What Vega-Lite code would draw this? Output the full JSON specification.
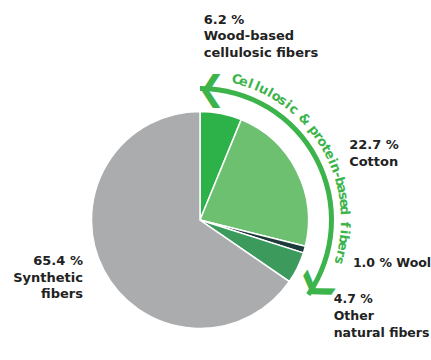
{
  "$schema": "https://vega.github.io/schema/vega-lite/v6.json",
  "autosize": "none",
  "width": 400,
  "height": 280,
  "padding": {"left": 0, "top": 80, "right": 31, "bottom": 0},
  "background": "white",
  "config": {"view": {"stroke": null}, "text": {"font": "DejaVu Sans"}},
  "datasets": {
    "fibers": [
      {"i": 1, "name": "Wood-based cellulosic fibers", "value": 6.2, "label": "6.2 %\nWood-based\ncellulosic fibers"},
      {"i": 2, "name": "Cotton", "value": 22.7, "label": "22.7 %\nCotton"},
      {"i": 3, "name": "Wool", "value": 1.0, "label": "1.0 % Wool"},
      {"i": 4, "name": "Other natural fibers", "value": 4.7, "label": "4.7 %\nOther\nnatural fibers"},
      {"i": 5, "name": "Synthetic fibers", "value": 65.4, "label": "65.4 %\nSynthetic\nfibers"}
    ],
    "arrow": [
      {"group": "Cellulosic & protein-based fibers", "start": 0, "end": 34.6}
    ],
    "chars": [
      {"i": 0, "ch": "C"}, {"i": 1, "ch": "e"}, {"i": 2, "ch": "l"}, {"i": 3, "ch": "l"},
      {"i": 4, "ch": "u"}, {"i": 5, "ch": "l"}, {"i": 6, "ch": "o"}, {"i": 7, "ch": "s"},
      {"i": 8, "ch": "i"}, {"i": 9, "ch": "c"}, {"i": 10, "ch": " "}, {"i": 11, "ch": "&"},
      {"i": 12, "ch": " "}, {"i": 13, "ch": "p"}, {"i": 14, "ch": "r"}, {"i": 15, "ch": "o"},
      {"i": 16, "ch": "t"}, {"i": 17, "ch": "e"}, {"i": 18, "ch": "i"}, {"i": 19, "ch": "n"},
      {"i": 20, "ch": "-"}, {"i": 21, "ch": "b"}, {"i": 22, "ch": "a"}, {"i": 23, "ch": "s"},
      {"i": 24, "ch": "e"}, {"i": 25, "ch": "d"}, {"i": 26, "ch": " "}, {"i": 27, "ch": "f"},
      {"i": 28, "ch": "i"}, {"i": 29, "ch": "b"}, {"i": 30, "ch": "e"}, {"i": 31, "ch": "r"},
      {"i": 32, "ch": "s"}
    ]
  },
  "layer": [
    {
      "layer": [
        {
          "data": {"name": "fibers"},
          "mark": {"type": "arc", "outerRadius": 108.5, "stroke": "white", "strokeWidth": 1.5},
          "encoding": {
            "theta": {"field": "value", "type": "quantitative", "stack": true, "scale": {"domain": [0, 100]}},
            "order": {"field": "i", "type": "quantitative"},
            "color": {
              "field": "name", "type": "nominal", "legend": null,
              "scale": {
                "domain": ["Wood-based cellulosic fibers", "Cotton", "Wool", "Other natural fibers", "Synthetic fibers"],
                "range": ["#2db24a", "#6dc070", "#1d3b3a", "#3c9b5c", "#aaacae"]
              }
            }
          }
        },
        {
          "data": {"name": "arrow"},
          "mark": {"type": "arc", "innerRadius": 129, "outerRadius": 134, "color": "#3cb44b"},
          "encoding": {
            "theta": {"field": "start", "type": "quantitative"},
            "theta2": {"field": "end"}
          }
        },
        {
          "data": {"name": "arrow"},
          "mark": {"type": "text", "text": "❮", "radius": 131.5, "align": "left", "baseline": "middle", "angle": 0, "dx": -3, "dy": 1, "fontSize": 34, "fontWeight": "bold", "color": "#3cb44b"},
          "encoding": {
            "theta": {"field": "start", "type": "quantitative"}
          }
        },
        {
          "data": {"name": "arrow"},
          "mark": {"type": "text", "text": "❮", "radius": 131.5, "align": "left", "baseline": "middle", "angle": 304, "dx": -3, "dy": 1, "fontSize": 34, "fontWeight": "bold", "color": "#3cb44b"},
          "encoding": {
            "theta": {"field": "end", "type": "quantitative"}
          }
        },
        {
          "data": {"name": "fibers"},
          "mark": {"type": "text", "radius": 200, "align": "left", "baseline": "alphabetic", "dx": -35, "dy": 0, "fontSize": 13, "fontWeight": "bold", "lineHeight": 16.5, "lineBreak": "\n", "color": "#222222"},
          "encoding": {
            "theta": {"field": "value", "type": "quantitative", "stack": true},
            "order": {"field": "i", "type": "quantitative"},
            "detail": {"field": "name", "type": "nominal"},
            "text": {"condition": {"test": "datum.i === 1", "field": "label"}, "value": ""}
          }
        },
        {
          "data": {"name": "fibers"},
          "mark": {"type": "text", "radius": 166, "align": "left", "baseline": "alphabetic", "dx": 1, "dy": 4, "fontSize": 13, "fontWeight": "bold", "lineHeight": 17, "lineBreak": "\n", "color": "#222222"},
          "encoding": {
            "theta": {"field": "value", "type": "quantitative", "stack": true},
            "order": {"field": "i", "type": "quantitative"},
            "detail": {"field": "name", "type": "nominal"},
            "text": {"condition": {"test": "datum.i === 2", "field": "label"}, "value": ""}
          }
        },
        {
          "data": {"name": "fibers"},
          "mark": {"type": "text", "radius": 160, "align": "left", "baseline": "alphabetic", "dx": -1, "dy": 3, "fontSize": 12.5, "fontWeight": "bold", "lineHeight": 17, "lineBreak": "\n", "color": "#222222"},
          "encoding": {
            "theta": {"field": "value", "type": "quantitative", "stack": true},
            "order": {"field": "i", "type": "quantitative"},
            "detail": {"field": "name", "type": "nominal"},
            "text": {"condition": {"test": "datum.i === 3", "field": "label"}, "value": ""}
          }
        },
        {
          "data": {"name": "fibers"},
          "mark": {"type": "text", "radius": 160, "align": "left", "baseline": "alphabetic", "dx": -10, "dy": 13, "fontSize": 12.5, "fontWeight": "bold", "lineHeight": 17, "lineBreak": "\n", "color": "#222222"},
          "encoding": {
            "theta": {"field": "value", "type": "quantitative", "stack": true},
            "order": {"field": "i", "type": "quantitative"},
            "detail": {"field": "name", "type": "nominal"},
            "text": {"condition": {"test": "datum.i === 4", "field": "label"}, "value": ""}
          }
        },
        {
          "data": {"name": "fibers"},
          "mark": {"type": "text", "radius": 130, "align": "right", "baseline": "alphabetic", "dx": -2, "dy": -15, "fontSize": 13, "fontWeight": "bold", "lineHeight": 16.5, "lineBreak": "\n", "color": "#222222"},
          "encoding": {
            "theta": {"field": "value", "type": "quantitative", "stack": true},
            "order": {"field": "i", "type": "quantitative"},
            "detail": {"field": "name", "type": "nominal"},
            "text": {"condition": {"test": "datum.i === 5", "field": "label"}, "value": ""}
          }
        }
      ]
    },
    {
      "data": {"name": "chars"},
      "mark": {"type": "text", "radius": 145, "align": "center", "baseline": "middle", "fontSize": 13, "fontWeight": "bold", "color": "#3cb44b"},
      "encoding": {
        "theta": {"field": "i", "type": "quantitative", "scale": {"domain": [0, 32], "range": [0.2548, 1.8535]}},
        "angle": {"field": "i", "type": "quantitative", "scale": {"domain": [0, 32], "range": [14.6, 106.2]}},
        "text": {"field": "ch", "type": "nominal"}
      }
    }
  ],
  "resolve": {"scale": {"theta": "independent", "angle": "independent"}}
}
